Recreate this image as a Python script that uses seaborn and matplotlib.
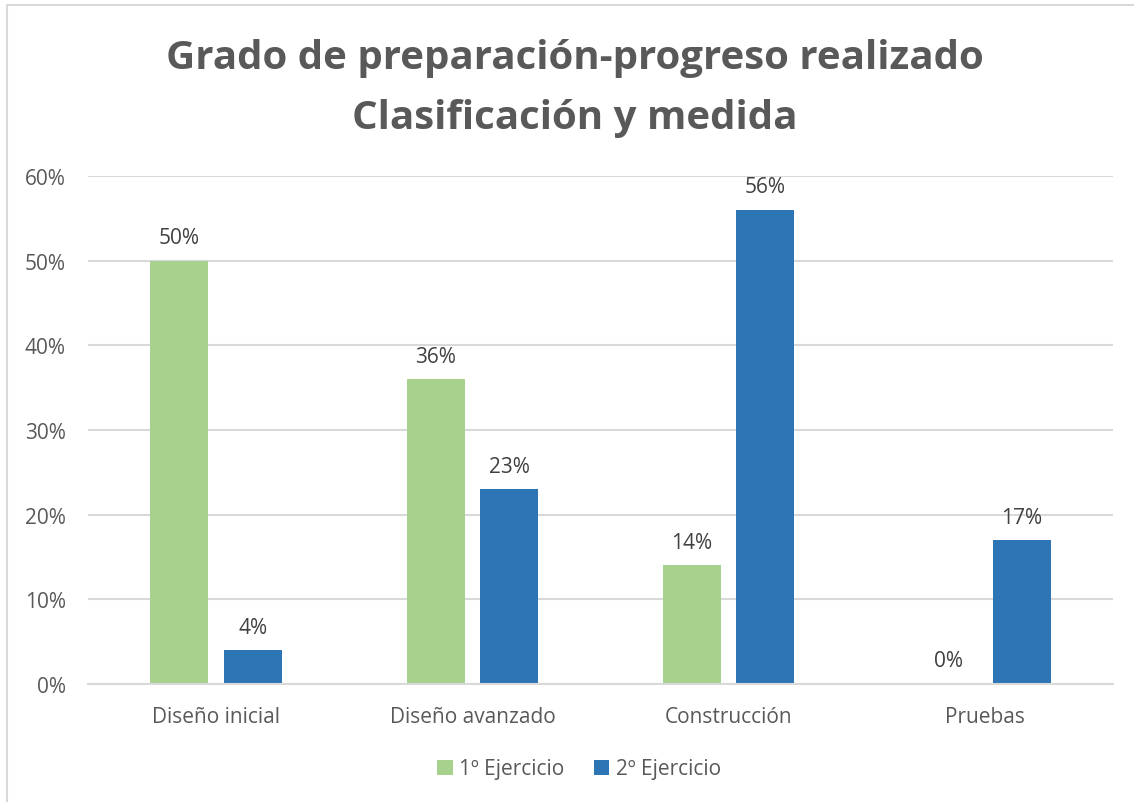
import matplotlib
matplotlib.use("Agg")
import matplotlib.pyplot as plt
import seaborn as sns
import pandas as pd
from matplotlib.patches import Rectangle

categories = ["Diseño inicial", "Diseño avanzado", "Construcción", "Pruebas"]
series_names = ["1º Ejercicio", "2º Ejercicio"]
ejercicio1 = [0.50, 0.36, 0.14, 0.00]
ejercicio2 = [0.04, 0.23, 0.56, 0.17]
yticks = [0.0, 0.1, 0.2, 0.3, 0.4, 0.5, 0.6]
ytick_labels = ["0%", "10%", "20%", "30%", "40%", "50%", "60%"]
title_lines = ["Grado de preparación-progreso realizado", "Clasificación y medida"]

green = "#A9D18E"
blue = "#2E75B6"
text_gray = "#595959"
grid_gray = "#D9D9D9"

df = pd.DataFrame({
    "Categoría": categories * 2,
    "Valor": ejercicio1 + ejercicio2,
    "Serie": [series_names[0]] * len(categories) + [series_names[1]] * len(categories),
})

sns.set_theme(style="white")
plt.rcParams['font.family'] = ['Open Sans', 'DejaVu Sans']

fig = plt.figure(figsize=(11.34, 8.03), dpi=100)
ax = fig.add_axes([88 / 1134, 1 - 685 / 803, (1113 - 88) / 1134, (685 - 177) / 803])

sns.barplot(data=df, x="Categoría", y="Valor", hue="Serie", hue_order=series_names,
            palette=[green, blue], width=0.574, gap=0.21, ax=ax, saturation=1,
            errorbar=None, linewidth=0)

ax.set_ylim(0, 0.6)
ax.set_yticks(yticks)
ax.set_yticklabels(ytick_labels)
ax.set_xlabel("")
ax.set_ylabel("")
ax.yaxis.grid(True, color=grid_gray, linewidth=1.5)
ax.set_axisbelow(True)
for s in ["top", "right", "left"]:
    ax.spines[s].set_visible(False)
ax.spines["bottom"].set_color(grid_gray)
ax.spines["bottom"].set_linewidth(1.5)
ax.tick_params(axis="both", length=0, labelsize=15, labelcolor=text_gray)
ax.tick_params(axis="x", pad=16)
ax.tick_params(axis="y", pad=16)

for cont in ax.containers:
    ax.bar_label(cont, labels=[f"{v * 100:.0f}%" for v in cont.datavalues],
                 padding=9, fontsize=15, color="#404040")

sns.move_legend(ax, "center", bbox_to_anchor=((579 - 88) / (1113 - 88), (685 - 770) / (685 - 177)),
                ncol=2, frameon=False, title=None, fontsize=15,
                handlelength=0.75, handleheight=0.75, handletextpad=0.3,
                columnspacing=1.4, labelcolor=text_gray)

fig.text(0.507, 1 - 58 / 803, title_lines[0], ha="center", va="center",
         fontsize=29, fontweight="bold", color=text_gray)
fig.text(0.507, 1 - 118 / 803, title_lines[1], ha="center", va="center",
         fontsize=29, fontweight="bold", color=text_gray)

fig.add_artist(Rectangle((7 / 1134, -0.05), 1.1, 1 - 6 / 803 + 0.05,
                         transform=fig.transFigure, fill=False,
                         edgecolor=grid_gray, linewidth=1.5))

fig.savefig("out.png", dpi=100, facecolor="white")
